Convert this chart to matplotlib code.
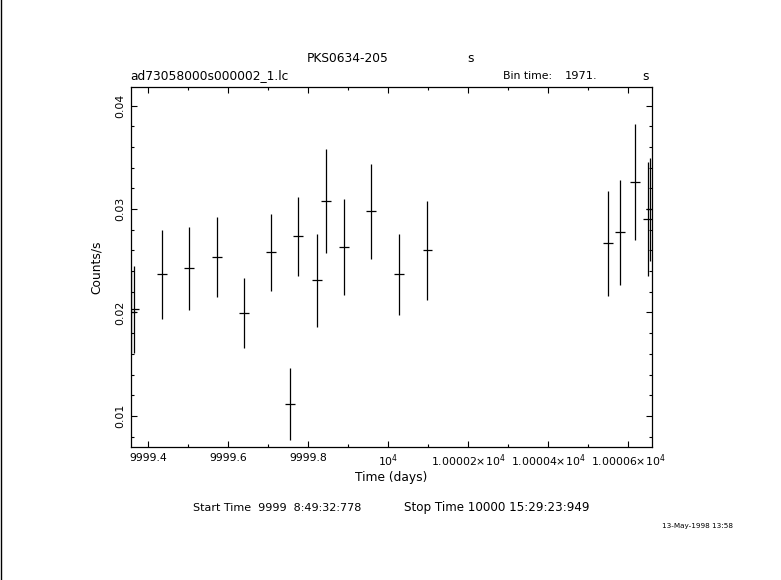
import numpy as np
import matplotlib
matplotlib.use("Agg")
import matplotlib.pyplot as plt
from matplotlib.ticker import MultipleLocator, FixedLocator

# light curve bins (days, counts/s)
time_days = [9999.358, 9999.3655, 9999.435, 9999.5026, 9999.572, 9999.640,
             9999.708, 9999.7547, 9999.7755, 9999.823, 9999.8456, 9999.8906,
             9999.9582, 10000.0283, 10000.0984, 10000.549, 10000.579,
             10000.618, 10000.649, 10000.656]
rate = [0.02005, 0.02031, 0.02369, 0.02427, 0.02537, 0.01992,
        0.02582, 0.01115, 0.02737, 0.02311, 0.03078, 0.02634,
        0.02979, 0.02369, 0.02601, 0.02669, 0.02776,
        0.03262, 0.02904, 0.02999]
rate_err = [0.0040, 0.0042, 0.0043, 0.0040, 0.0039, 0.0034,
            0.0037, 0.0035, 0.0038, 0.0045, 0.0050, 0.0046,
            0.0046, 0.0039, 0.0048, 0.0051, 0.0051,
            0.0056, 0.0055, 0.0050]
half_bin = 0.0122

xtick_vals = [9999.4, 9999.6, 9999.8, 10000.0, 10000.2, 10000.4, 10000.6]
xtick_labels = ["9999.4", "9999.6", "9999.8", r"10$^4$",
                r"1.00002$\times$10$^4$", r"1.00004$\times$10$^4$",
                r"1.00006$\times$10$^4$"]
ytick_vals = [0.01, 0.02, 0.03, 0.04]
ytick_labels = ["0.01", "0.02", "0.03", "0.04"]

W, H = 781, 580
fs = 8.8     # labels / header text
tfs = 7.8    # tick labels
plt.rcParams['font.family'] = ['DejaVu Sans']

fig = plt.figure(figsize=(W / 100, H / 100), dpi=100)
ax = fig.add_axes([130.7 / W, 1 - 447 / H, (651.5 - 130.7) / W, (447 - 86.7) / H])

ax.errorbar(time_days, rate, yerr=rate_err, xerr=half_bin, fmt='none',
            ecolor='black', elinewidth=0.9, capsize=0)

ax.set_xlim(9999.3567, 10000.6586)
ax.set_ylim(0.00699, 0.04184)

ax.xaxis.set_major_locator(FixedLocator(xtick_vals))
ax.set_xticklabels(xtick_labels, fontsize=tfs)
ax.xaxis.set_minor_locator(MultipleLocator(0.1))
ax.yaxis.set_major_locator(FixedLocator(ytick_vals))
ax.set_yticklabels(ytick_labels, fontsize=tfs, rotation=90, va='center')
ax.yaxis.set_minor_locator(MultipleLocator(0.002))

ax.tick_params(which='both', direction='in', top=True, right=True, width=0.8)
ax.tick_params(which='major', length=4.2)
ax.tick_params(which='minor', length=2.5)
ax.tick_params(axis='x', pad=4)
ax.tick_params(axis='y', pad=4)
for sp in ax.spines.values():
    sp.set_linewidth(0.9)

ax.set_xlabel("Time (days)", fontsize=fs, labelpad=1)
ax.set_ylabel("Counts/s", fontsize=fs, labelpad=9)


def ftext(x, y, s, **kw):
    kw.setdefault('fontsize', fs)
    fig.text(x / W, 1 - y / H, s, va='center', **kw)


ftext(348, 59, "PKS0634-205", ha='center')
ftext(471, 59, "s", ha='center')
ftext(130, 76, "ad73058000s000002_1.lc", ha='left')
ftext(503, 76, "Bin time:", ha='left', fontsize=7.8)
ftext(597, 76, "1971.", ha='right', fontsize=8.2)
ftext(646, 76, "s", ha='center')
ftext(193, 508, "Start Time  9999  8:49:32:778", ha='left', fontsize=8.0)
ftext(589, 508, "Stop Time 10000 15:29:23:949", ha='right', fontsize=8.6)
ftext(733, 526, "13-May-1998 13:58", ha='right', fontsize=5.2)

fig.add_artist(plt.Line2D([0.7 / W, 0.7 / W], [0, 1], color='black', lw=1.0))

fig.savefig("out.png", dpi=100, facecolor='white')
